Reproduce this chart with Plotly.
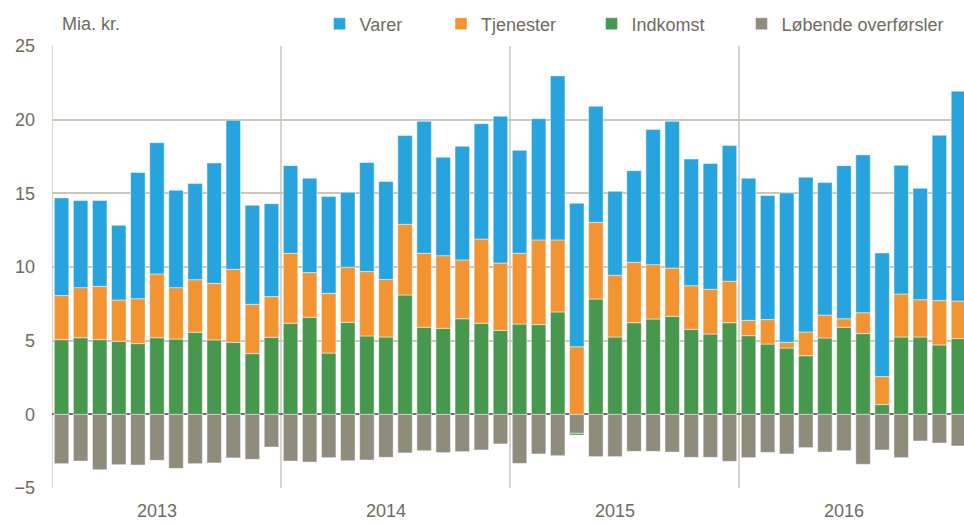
import plotly.graph_objects as go

years = ["2013", "2014", "2015", "2016"]
months = list(range(48))

indkomst = [5.07, 5.20, 5.07, 4.96, 4.80, 5.20, 5.11, 5.57, 5.05, 4.89, 4.12, 5.23,
            6.18, 6.59, 4.16, 6.25, 5.32, 5.25, 8.10, 5.91, 5.84, 6.49, 6.18, 5.70,
            6.13, 6.09, 6.95, -0.12, 7.83, 5.25, 6.22, 6.47, 6.65, 5.77, 5.45, 6.22,
            5.34, 4.77, 4.50, 3.98, 5.18, 5.91, 5.48, 0.66, 5.25, 5.25, 4.71, 5.14]
tjenester = [2.99, 3.40, 3.62, 2.80, 3.05, 4.33, 3.49, 3.57, 3.84, 4.95, 3.35, 2.76,
             4.75, 3.03, 4.05, 3.73, 4.37, 3.91, 4.80, 5.02, 4.93, 3.99, 5.72, 4.57,
             4.80, 5.75, 4.89, 4.59, 5.20, 4.19, 4.10, 3.69, 3.28, 2.96, 3.04, 2.81,
             1.04, 1.66, 0.39, 1.61, 1.56, 0.58, 1.42, 1.90, 2.92, 2.53, 3.01, 2.55]
varer = [6.63, 5.91, 5.82, 5.07, 8.56, 8.91, 6.61, 6.52, 8.17, 10.12, 6.72, 6.31,
         5.95, 6.40, 6.57, 5.09, 7.40, 6.64, 6.02, 8.96, 6.68, 7.71, 7.83, 9.96,
         6.99, 8.23, 11.13, 9.73, 7.88, 5.70, 6.22, 9.17, 9.96, 8.60, 8.53, 9.21,
         9.64, 8.42, 10.14, 10.50, 8.99, 10.39, 10.71, 8.39, 8.73, 7.56, 11.22, 14.24]
overfoersler = [-3.35, -3.17, -3.76, -3.42, -3.44, -3.12, -3.67, -3.35, -3.30, -2.96, -3.05, -2.22,
                -3.17, -3.24, -2.94, -3.15, -3.10, -2.92, -2.62, -2.47, -2.60, -2.53, -2.42, -2.01,
                -3.33, -2.69, -2.81, -1.29, -2.87, -2.87, -2.51, -2.51, -2.56, -2.92, -2.92, -3.19,
                -2.94, -2.58, -2.69, -2.26, -2.56, -2.47, -3.39, -2.42, -2.94, -1.81, -1.95, -2.15]
y_ticks = [-5, 0, 5, 10, 15, 20, 25]

TXT = "#6e6b5e"
FONT = "Liberation Sans, Arial, sans-serif"
W, H = 964, 525

series = [
    ("Løbende overførsler", overfoersler, "#8f8c7c", "legend4", 769.5),
    ("Indkomst", indkomst, "#48974f", "legend3", 619.5),
    ("Tjenester", tjenester, "#f29432", "legend2", 469),
    ("Varer", varer, "#27a3dd", "legend", 347.5),
]

fig = go.Figure()
for name, vals, col, lg, cx in series:
    fig.add_trace(go.Bar(
        x=months, y=vals, name=name, legend=lg,
        marker=dict(color=col, line=dict(color="rgba(255,255,255,0.6)", width=0.8)),
    ))

layout_legends = {}
for name, vals, col, lg, cx in series:
    layout_legends[lg] = dict(
        x=(cx - 28) / W, xref="container", xanchor="left",
        y=1 - 24 / H, yref="container", yanchor="middle",
        orientation="h", bgcolor="rgba(0,0,0,0)",
        font=dict(family=FONT, size=18, color=TXT),
        itemclick=False,
    )

fig.update_layout(
    width=W, height=H,
    barmode="relative", bargap=0.24,
    plot_bgcolor="white", paper_bgcolor="white",
    margin=dict(l=52, r=0, t=46, b=37, autoexpand=False),
    font=dict(family=FONT, size=18, color=TXT),
    showlegend=True,
    **layout_legends,
)

fig.update_xaxes(
    range=[-0.5, 47.29],
    tickvals=[5, 17, 29, 41], ticktext=years,
    showgrid=False, zeroline=False, showline=False, ticks="",
    tickfont=dict(family=FONT, size=18, color=TXT),
    ticklabelstandoff=10,
    automargin=False,
)
fig.update_yaxes(
    range=[-5, 25], tickvals=y_ticks,
    showgrid=True, gridcolor="#c9c7b9", gridwidth=1.5,
    zeroline=True, zerolinecolor="#77725f", zerolinewidth=2,
    showline=False, ticks="",
    tickfont=dict(family=FONT, size=18, color=TXT),
    ticklabelstandoff=16,
    automargin=False,
)

# year separators and left frame line
for xv in [-0.5, 11.5, 23.5, 35.5]:
    fig.add_shape(type="line", xref="x", yref="y", x0=xv, x1=xv, y0=-5, y1=25,
                  line=dict(color="#d6d4cb", width=2), layer="below")

fig.add_annotation(text="Mia. kr.", xref="paper", yref="paper", x=0.0087, y=1.0,
                   xanchor="left", yanchor="bottom", yshift=10, showarrow=False,
                   font=dict(family=FONT, size=18, color=TXT))

fig.write_html("out.html",
               config={"displayModeBar": False},
               post_script="document.body.style.margin='0';document.body.style.overflow='hidden';")
